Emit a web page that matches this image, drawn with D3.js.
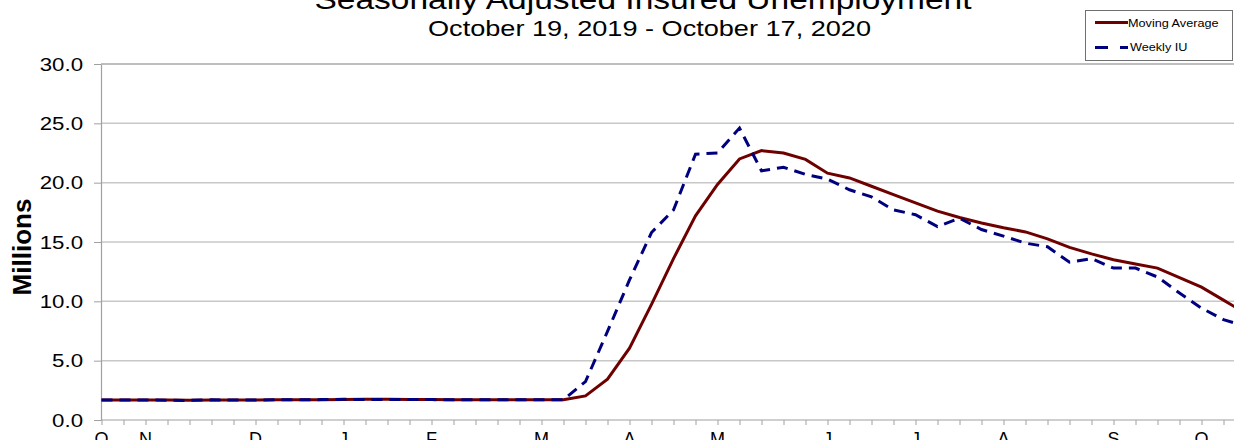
<!DOCTYPE html>
<html>
<head>
<meta charset="utf-8">
<script src="https://cdn.jsdelivr.net/npm/d3@7"></script>
<style>
  body { margin: 0; background: #fff; }
  svg { display: block; font-family: "Liberation Sans", Arial, sans-serif; }
</style>
</head>
<body>
<svg id="chart" width="1234" height="440"></svg>
<script>
// weeks since Oct 19, 2019 (53 weekly points)
var weekIdx = d3.range(0, 53);

var movingAvg = [1.69, 1.69, 1.69, 1.68, 1.67, 1.68, 1.68, 1.69, 1.70, 1.70,
                 1.71, 1.73, 1.74, 1.74, 1.73, 1.72, 1.71, 1.70, 1.70, 1.70,
                 1.70, 1.70, 2.03, 3.44, 6.05, 9.74, 13.6, 17.2, 19.85, 22.0,
                 22.7, 22.5, 21.96, 20.8, 20.4, 19.7, 19.0, 18.3, 17.6, 17.06,
                 16.6, 16.2, 15.85, 15.26, 14.55, 14.0, 13.5, 13.15, 12.8, 12.0,
                 11.2, 10.1, 9.0];

var weeklyIU = [1.69, 1.69, 1.69, 1.66, 1.65, 1.70, 1.69, 1.69, 1.70, 1.70,
                1.72, 1.74, 1.73, 1.72, 1.72, 1.72, 1.70, 1.70, 1.70, 1.70,
                1.70, 1.71, 3.24, 7.46, 11.8, 15.8, 17.7, 22.4, 22.5, 24.6,
                21.0, 21.3, 20.7, 20.3, 19.4, 18.8, 17.7, 17.3, 16.3, 17.0,
                16.05, 15.5, 14.9, 14.6, 13.3, 13.6, 12.8, 12.8, 12.05, 10.7,
                9.43, 8.45, 7.9];

var monthLabels = ["O", "N", "D", "J", "F", "M", "A", "M", "J", "J", "A", "S", "O"];
var monthWeeks = [0, 2, 7, 11, 15, 20, 24, 28, 33, 37, 41, 46, 50];
var yTicks = [0, 5, 10, 15, 20, 25, 30];

var svg = d3.select("#chart");

// the original's text is a bit wider than Arial, so stretch it horizontally
function stretch(sel, k) {
    sel.each(function() {
        var w = this.getComputedTextLength();
        d3.select(this).attr("textLength", w * k).attr("lengthAdjust", "spacingAndGlyphs");
    });
}

var x = d3.scaleLinear().domain([0, 52]).range([101.5, 101.5 + 52 * 22]);
var y = d3.scaleLinear().domain([0, 30]).range([420, 64]);

// grid
svg.append("g")
    .selectAll("line")
    .data(yTicks.slice(1))
    .enter()
    .append("line")
        .attr("x1", 101).attr("x2", 1234)
        .attr("y1", d => y(d)).attr("y2", d => y(d))
        .attr("stroke", d => d == 30 ? "#a8a8a8" : "#c8c8c8")
        .attr("stroke-width", 1.5);

// y axis
var yAxis = svg.append("g")
    .attr("transform", "translate(101,0)")
    .call(d3.axisLeft(y).tickValues(yTicks).tickFormat(d3.format(".1f")).tickSize(7).tickSizeOuter(0));
yAxis.select(".domain").attr("stroke", "#a0a0a0").attr("stroke-width", 1.2);
yAxis.selectAll(".tick line").attr("stroke", "#a0a0a0");
yAxis.selectAll(".tick text")
    .attr("x", -18)
    .attr("font-size", 19)
    .attr("font-family", "Liberation Sans, Arial, sans-serif")
    .attr("fill", "#000")
    .call(stretch, 1.17);

// x axis
var xAxis = svg.append("g")
    .attr("transform", "translate(0,420)")
    .call(d3.axisBottom(x).tickValues(weekIdx).tickFormat("").tickSize(5).tickSizeOuter(0));
xAxis.select(".domain").attr("stroke", "#a0a0a0").attr("stroke-width", 1.2)
    .attr("d", "M101,0H1234");
xAxis.selectAll(".tick line").attr("stroke", "#a0a0a0");

svg.append("g")
    .selectAll("text")
    .data(monthLabels)
    .enter()
    .append("text")
        .attr("x", (d, i) => x(monthWeeks[i]))
        .attr("y", 445)
        .attr("text-anchor", "middle")
        .attr("font-size", 18)
        .text(d => d);

// lines
var line = d3.line().x((d, i) => x(weekIdx[i])).y(d => y(d));

svg.append("path")
    .datum(movingAvg)
    .attr("d", line)
    .attr("fill", "none")
    .attr("stroke", "#6e0000")
    .attr("stroke-width", 3);

svg.append("path")
    .datum(weeklyIU)
    .attr("d", line)
    .attr("fill", "none")
    .attr("stroke", "#00007f")
    .attr("stroke-width", 3)
    .attr("stroke-dasharray", "11,7");

// titles
svg.append("text")
    .attr("x", 643).attr("y", 9)
    .attr("text-anchor", "middle")
    .attr("font-size", 27)
    .attr("textLength", 657).attr("lengthAdjust", "spacingAndGlyphs")
    .text("Seasonally Adjusted Insured Unemployment");

svg.append("text")
    .attr("x", 649.5).attr("y", 36)
    .attr("text-anchor", "middle")
    .attr("font-size", 22)
    .attr("textLength", 443).attr("lengthAdjust", "spacingAndGlyphs")
    .text("October 19, 2019 - October 17, 2020");

svg.append("text")
    .attr("transform", "translate(31,247) rotate(-90)")
    .attr("text-anchor", "middle")
    .attr("font-size", 26)
    .attr("font-weight", "bold")
    .text("Millions");

// legend
var legend = svg.append("g");
legend.append("rect")
    .attr("x", 1085.5).attr("y", 10.5).attr("width", 147).attr("height", 50)
    .attr("fill", "#fff").attr("stroke", "#707070");
legend.append("line")
    .attr("x1", 1095).attr("x2", 1128).attr("y1", 22.5).attr("y2", 22.5)
    .attr("stroke", "#6e0000").attr("stroke-width", 3);
legend.append("line")
    .attr("x1", 1095).attr("x2", 1128).attr("y1", 47.5).attr("y2", 47.5)
    .attr("stroke", "#00007f").attr("stroke-width", 3)
    .attr("stroke-dasharray", "13,12");
legend.append("text")
    .attr("x", 1128).attr("y", 26.5).attr("font-size", 11)
    .text("Moving Average")
    .call(stretch, 1.15);
legend.append("text")
    .attr("x", 1130).attr("y", 51).attr("font-size", 11)
    .text("Weekly IU")
    .call(stretch, 1.15);
</script>
</body>
</html>
